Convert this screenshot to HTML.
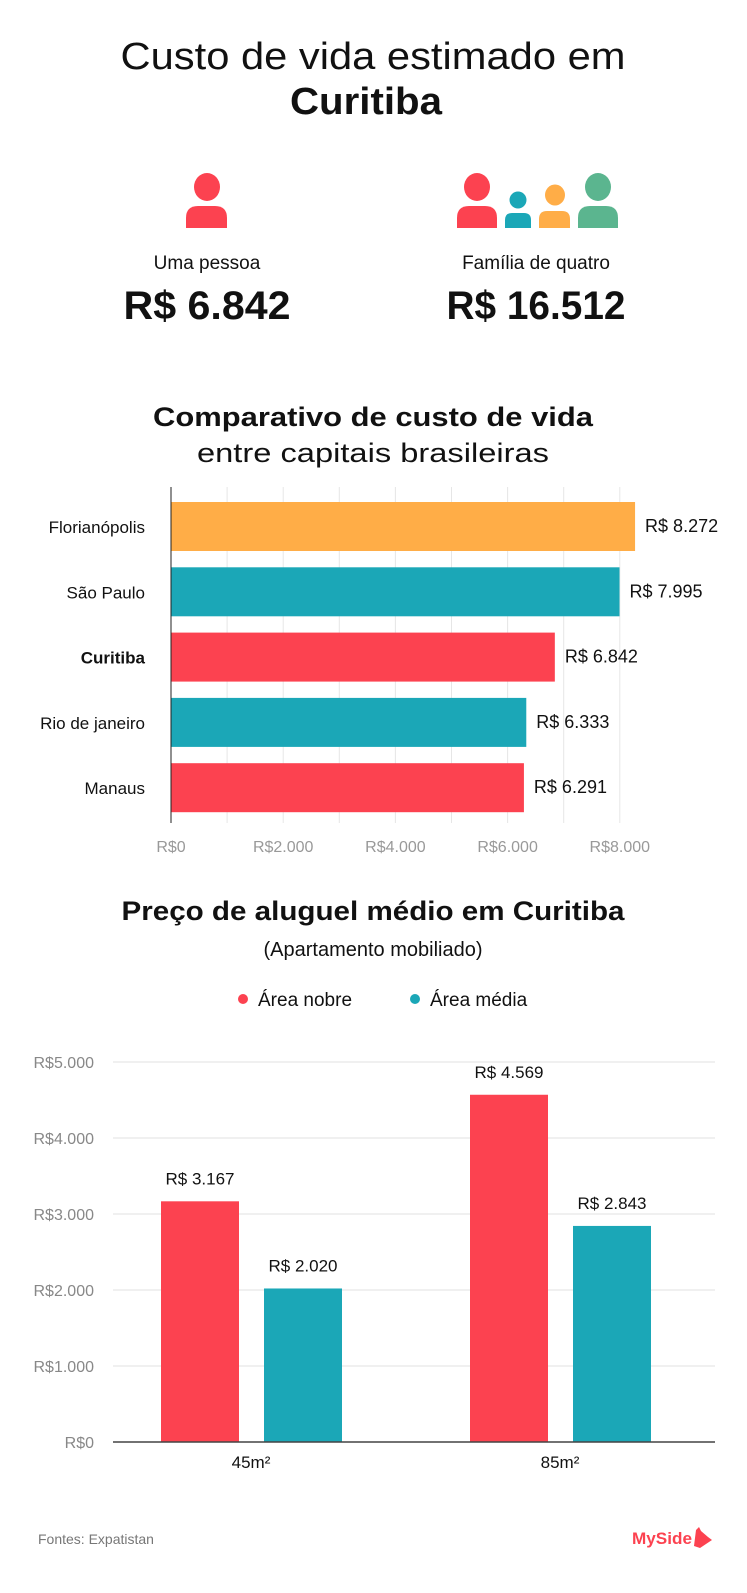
<!DOCTYPE html>
<html><head><meta charset="utf-8"><style>
html,body{margin:0;padding:0;background:#fff;}
svg{display:block;font-family:"Liberation Sans",sans-serif;}
</style></head><body>
<svg id="root" width="747" height="1593" viewBox="0 0 747 1593" xmlns="http://www.w3.org/2000/svg">
<rect width="747" height="1593" fill="#fff"/>
<g>
<text x="373" y="69" text-anchor="middle" font-size="38" fill="#111" textLength="505" lengthAdjust="spacingAndGlyphs">Custo de vida estimado em</text>
<text x="366" y="114" text-anchor="middle" font-size="38" font-weight="bold" fill="#111" textLength="152" lengthAdjust="spacingAndGlyphs">Curitiba</text>
</g>
<g>
<ellipse cx="207" cy="187" rx="13" ry="14" fill="#FC4250"/>
<path d="M186 228 V218 Q186 206 198 206 H215 Q227 206 227 218 V228 Z" fill="#FC4250"/>
</g>
<g>
<ellipse cx="477" cy="187" rx="13" ry="14" fill="#FC4250"/>
<path d="M457 228 V218 Q457 206 469 206 H485 Q497 206 497 218 V228 Z" fill="#FC4250"/>
<ellipse cx="518" cy="200" rx="8.5" ry="8.5" fill="#1BA7B7"/>
<path d="M505 228 V220 Q505 213 512 213 H524 Q531 213 531 220 V228 Z" fill="#1BA7B7"/>
<ellipse cx="555" cy="195" rx="10" ry="10.5" fill="#FFAD47"/>
<path d="M539 228 V219 Q539 211 547 211 H562 Q570 211 570 219 V228 Z" fill="#FFAD47"/>
<ellipse cx="598" cy="187" rx="13" ry="14" fill="#5BB58F"/>
<path d="M578 228 V218 Q578 206 590 206 H606 Q618 206 618 218 V228 Z" fill="#5BB58F"/>
</g>
<text x="207" y="269" text-anchor="middle" font-size="19" fill="#111">Uma pessoa</text>
<text x="536" y="269" text-anchor="middle" font-size="19" fill="#111">Família de quatro</text>
<text x="207" y="319" text-anchor="middle" font-size="40" font-weight="bold" fill="#111" textLength="167" lengthAdjust="spacingAndGlyphs">R$ 6.842</text>
<text x="536" y="319" text-anchor="middle" font-size="40" font-weight="bold" fill="#111" textLength="179" lengthAdjust="spacingAndGlyphs">R$ 16.512</text>

<text x="373" y="426" text-anchor="middle" font-size="27" font-weight="bold" fill="#111" textLength="440" lengthAdjust="spacingAndGlyphs">Comparativo de custo de vida</text>
<text x="373" y="462" text-anchor="middle" font-size="27" fill="#111" textLength="352" lengthAdjust="spacingAndGlyphs">entre capitais brasileiras</text>
<g id="chart1"></g>

<text x="373" y="920" text-anchor="middle" font-size="27" font-weight="bold" fill="#111" textLength="503" lengthAdjust="spacingAndGlyphs">Preço de aluguel médio em Curitiba</text>
<text x="373" y="956" text-anchor="middle" font-size="20" fill="#111">(Apartamento mobiliado)</text>
<g>
<g><circle cx="243" cy="999" r="5" fill="#FC4250"/><text x="258" y="1006" font-size="19" fill="#111">Área nobre</text></g>
<g><circle cx="415" cy="999" r="5" fill="#1BA7B7"/><text x="430" y="1006" font-size="19" fill="#111">Área média</text></g>
</g>
<g id="chart2"></g>

<text x="38" y="1544" font-size="14" fill="#777">Fontes: Expatistan</text>
<g>
<text x="632" y="1544" font-size="17" font-weight="bold" fill="#FC4250" textLength="60" lengthAdjust="spacingAndGlyphs">MySide</text>
<path d="M694 1546 L696 1530 L699 1527 L701 1531 L708 1537 L712 1540 L706 1544 L700 1548 Z" fill="#FC4250"/>
</g>
</svg>
<script>
const NS='http://www.w3.org/2000/svg';
const cities=['Florianópolis','São Paulo','Curitiba','Rio de janeiro','Manaus'];
const cityCosts=[8272,7995,6842,6333,6291];
const cityColors=['#FFAD47','#1BA7B7','#FC4250','#1BA7B7','#FC4250'];
const xTicks=[0,2000,4000,6000,8000];
const xTickLabels=['R$0','R$2.000','R$4.000','R$6.000','R$8.000'];

const sizes=['45m²','85m²'];
const nobreValues=[3167,4569];
const mediaValues=[2020,2843];
const yTicks=[0,1000,2000,3000,4000,5000];
const yTickLabels=['R$0','R$1.000','R$2.000','R$3.000','R$4.000','R$5.000'];

function fmt(v){return 'R$ '+v.toLocaleString('de-DE');}
function mk(tag,attrs,parent,txt){const e=document.createElementNS(NS,tag);for(const k in attrs)e.setAttribute(k,attrs[k]);if(txt!==undefined)e.textContent=txt;parent.appendChild(e);return e;}

// chart 1
const c1=document.getElementById('chart1');
const x1=v=>171+v*0.0561;
const y1=i=>502+i*65.3;
for(let v=0;v<=8000;v+=1000){
  const g=mk('line',{x1:x1(v),x2:x1(v),y1:487,y2:823,stroke:'#e6e6e6','stroke-width':1},c1);
  
  
}
xTicks.forEach((t,i)=>{
  const e=mk('text',{x:x1(t),y:852,'text-anchor':'middle','font-size':16,fill:'#999'},c1,xTickLabels[i]);
  
  
});
cities.forEach((c,i)=>{
  const b=mk('rect',{x:x1(0),y:y1(i),width:x1(cityCosts[i])-x1(0),height:49,fill:cityColors[i]},c1);
  
  
  const l=mk('text',{x:145,y:y1(i)+31,'text-anchor':'end','font-size':17,fill:'#111','font-weight':c==='Curitiba'?'bold':'normal'},c1,c);
  
  
  const v=mk('text',{x:x1(cityCosts[i])+10,y:y1(i)+30,'font-size':18,fill:'#111'},c1,fmt(cityCosts[i]));
  
  
});
const ax=mk('line',{x1:x1(0),x2:x1(0),y1:487,y2:823,stroke:'#222','stroke-width':1},c1);



// chart 2
const c2=document.getElementById('chart2');
const y2=v=>1442-v*0.076;
yTicks.forEach((t,i)=>{
  if(t>0){
    const g=mk('line',{x1:113,x2:715,y1:y2(t),y2:y2(t),stroke:'#e6e6e6','stroke-width':1.2},c2);
    
    
  }
  const e=mk('text',{x:94,y:y2(t)+6,'text-anchor':'end','font-size':16,fill:'#888'},c2,yTickLabels[i]);
  
  
});
const groupX=[161,470];
sizes.forEach((s,i)=>{
  const gx=groupX[i];
  const series=[[nobreValues[i],'#FC4250','nobre',0],[mediaValues[i],'#1BA7B7','media',103]];
  series.forEach(([v,col,nm,off])=>{
    const r=mk('rect',{x:gx+off,y:y2(v),width:78,height:y2(0)-y2(v),fill:col},c2);
    
    
    const t=mk('text',{x:gx+off+39,y:y2(v)-17,'text-anchor':'middle','font-size':17,fill:'#111'},c2,fmt(v));
    
    
  });
  const l=mk('text',{x:gx+90,y:1468,'text-anchor':'middle','font-size':17,fill:'#111'},c2,s);
  
  
});
const base=mk('line',{x1:113,x2:715,y1:1442,y2:1442,stroke:'#444','stroke-width':1.5},c2);


</script>
</body></html>
